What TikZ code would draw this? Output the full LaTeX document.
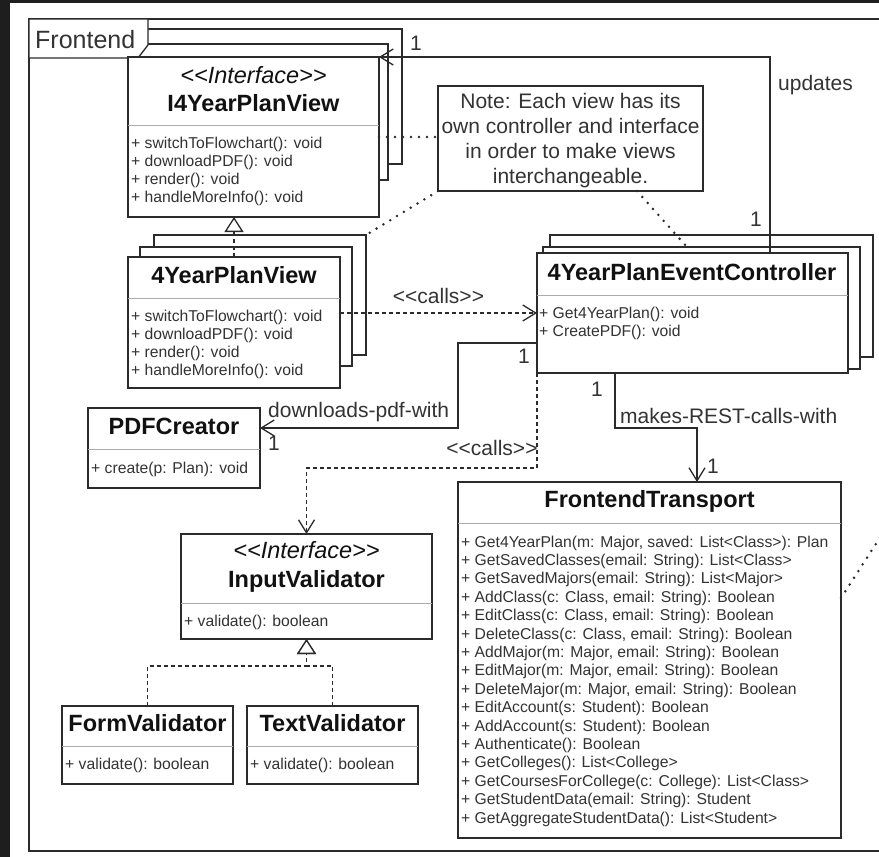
\documentclass[tikz,border=0pt]{standalone}
\usepackage{fontspec}
\setmainfont{Liberation Sans}[Ligatures=TeXOff]
\usetikzlibrary{arrows.meta,calc}
\definecolor{inkline}{HTML}{2B2B2B}
\definecolor{sepline}{HTML}{ABABAB}
\definecolor{inktext}{HTML}{333333}
\definecolor{inktitle}{HTML}{111111}
\definecolor{darkedge}{HTML}{1E1E1E}
\newcommand\methsize{\fontsize{15.7}{18}\selectfont}
\newcommand\titlesize{\fontsize{23.5}{28}\selectfont}
\newcommand\labelsize{\fontsize{21}{25}\selectfont}
\newcommand\framesize{\fontsize{25}{30}\selectfont}

\begin{document}
\begin{tikzpicture}[x=1pt,y=-1pt,
  box/.style={draw=inkline, fill=white, line width=1.3pt, rectangle,
              inner sep=0pt, outer sep=0pt, anchor=north west},
  sepl/.style={draw=sepline, line width=1pt},
  meth/.style={anchor=base west, inner sep=0pt, text=inktext, font=\methsize},
  ctitle/.style={anchor=base, inner sep=0pt, text=inktitle, font=\titlesize\bfseries},
  stereo/.style={anchor=base, inner sep=0pt, text=inktitle, font=\titlesize\itshape},
  lbl/.style={inner sep=0pt, text=inktext, font=\labelsize},
  notetext/.style={anchor=base, inner sep=0pt, text=inktext, font=\labelsize},
  assoc/.style={draw=inkline, line width=1.3pt, -{Straight Barb[length=13pt,width=16pt]}},
  dep/.style={assoc, dash pattern=on 4pt off 3pt},
  real/.style={draw=inkline, line width=1.3pt, dash pattern=on 4pt off 3pt,
               -{Triangle[open,length=15pt,width=19pt,fill=white]}},
  notel/.style={draw=inkline, line width=2.8pt, line cap=round, dash pattern=on 0pt off 8pt},
]
% canvas and dark screen edge
\fill[darkedge] (0,0) rectangle (879,857);
\fill[white] (10,3) rectangle (879,857);
\useasboundingbox (0,0) rectangle (879,857);
\clip (0,0) rectangle (879,857);

% package frame
\node[box, fill=none, minimum width=880pt, minimum height=832pt] (frame) at (29,19) {};

% stacked copies behind the interface
\node[box, minimum width=262pt, minimum height=135pt] (i4c3) at (140,29) {};
\node[box, minimum width=254pt, minimum height=136pt] (i4c2) at (134,44) {};

% frame tab
\draw[draw=inkline, line width=1.3pt, fill=white] (29,19) -- (148,19) -- (148,45) -- (138,58) -- (29,58) -- cycle;
\node[anchor=base west, inner sep=0pt, text=inktext, font=\framesize] (ftab) at (35,48) {Frontend};

% I4YearPlanView
\node[box, minimum width=251pt, minimum height=160pt] (i4) at (128,57) {};
\node[stereo] (i4s) at (253.5,83) {<<Interface>>};
\node[ctitle] (i4t) at (253.5,111) {I4YearPlanView};
\draw[sepl] ([yshift=-68pt]i4.north west) -- ([yshift=-68pt]i4.north east);
\foreach [count=\i] \t in {{+ switchToFlowchart(): void},{+ downloadPDF(): void},{+ render(): void},{+ handleMoreInfo(): void}}
  \node[meth] (i4m\i) at (131,{148+18.3*(\i-1)}) {\t};

% note
\node[box, minimum width=265pt, minimum height=105pt] (note) at (438,86) {};
\node[notetext] (n1) at (570.5,108) {Note: Each view has its};
\node[notetext] (n2) at (570.5,133) {own controller and interface};
\node[notetext] (n3) at (570.5,158) {in order to make views};
\node[notetext] (n4) at (570.5,183) {interchangeable.};

% 4YearPlanView
\node[box, minimum width=212pt, minimum height=120pt] (v4c3) at (154,235) {};
\node[box, minimum width=212pt, minimum height=119pt] (v4c2) at (140,247) {};
\node[box, minimum width=212pt, minimum height=131pt] (v4) at (128,257) {};
\node[ctitle] (v4t) at (234,283) {4YearPlanView};
\draw[sepl] ([yshift=-41pt]v4.north west) -- ([yshift=-41pt]v4.north east);
\foreach [count=\i] \t in {{+ switchToFlowchart(): void},{+ downloadPDF(): void},{+ render(): void},{+ handleMoreInfo(): void}}
  \node[meth] (v4m\i) at (131,{321+18.3*(\i-1)}) {\t};

% 4YearPlanEventController
\node[box, minimum width=323pt, minimum height=122pt] (ctc3) at (550,235) {};
\node[box, minimum width=317pt, minimum height=122pt] (ctc2) at (543,247) {};
\node[box, minimum width=311pt, minimum height=120pt] (ct) at (537,253) {};
\node[ctitle] (ctt) at (692,280) {4YearPlanEventController};
\draw[sepl] ([yshift=-42pt]ct.north west) -- ([yshift=-42pt]ct.north east);
\node[meth] (ctm1) at (539,318) {+ Get4YearPlan(): void};
\node[meth] (ctm2) at (539,336) {+ CreatePDF(): void};

% PDFCreator
\node[box, minimum width=172pt, minimum height=80pt] (pdf) at (88,408) {};
\node[ctitle] (pdft) at (174,434) {PDFCreator};
\draw[sepl] ([yshift=-41pt]pdf.north west) -- ([yshift=-41pt]pdf.north east);
\node[meth] (pdfm) at (91,473) {+ create(p: Plan): void};

% InputValidator
\node[box, minimum width=251pt, minimum height=105pt] (iv) at (181,534) {};
\node[stereo] (ivs) at (306.5,558) {<<Interface>>};
\node[ctitle] (ivt) at (306.5,587) {InputValidator};
\draw[sepl] ([yshift=-69pt]iv.north west) -- ([yshift=-69pt]iv.north east);
\node[meth] (ivm) at (184,626) {+ validate(): boolean};

% FormValidator / TextValidator
\node[box, minimum width=171pt, minimum height=78pt] (fv) at (62,706) {};
\node[ctitle] (fvt) at (147.5,731) {FormValidator};
\draw[sepl] ([yshift=-40pt]fv.north west) -- ([yshift=-40pt]fv.north east);
\node[meth] (fvm) at (65,769) {+ validate(): boolean};
\node[box, minimum width=171pt, minimum height=78pt] (tv) at (247,706) {};
\node[ctitle] (tvt) at (332.5,731) {TextValidator};
\draw[sepl] ([yshift=-40pt]tv.north west) -- ([yshift=-40pt]tv.north east);
\node[meth] (tvm) at (250,769) {+ validate(): boolean};

% FrontendTransport
\node[box, minimum width=383pt, minimum height=356pt] (tr) at (458,482) {};
\node[ctitle] (trt) at (649.5,507) {FrontendTransport};
\draw[sepl] ([yshift=-41pt]tr.north west) -- ([yshift=-41pt]tr.north east);
\foreach [count=\i] \t in {
  {+ Get4YearPlan(m: Major, saved: List<Class>): Plan},
  {+ GetSavedClasses(email: String): List<Class>},
  {+ GetSavedMajors(email: String): List<Major>},
  {+ AddClass(c: Class, email: String): Boolean},
  {+ EditClass(c: Class, email: String): Boolean},
  {+ DeleteClass(c: Class, email: String): Boolean},
  {+ AddMajor(m: Major, email: String): Boolean},
  {+ EditMajor(m: Major, email: String): Boolean},
  {+ DeleteMajor(m: Major, email: String): Boolean},
  {+ EditAccount(s: Student): Boolean},
  {+ AddAccount(s: Student): Boolean},
  {+ Authenticate(): Boolean},
  {+ GetColleges(): List<College>},
  {+ GetCoursesForCollege(c: College): List<Class>},
  {+ GetStudentData(email: String): Student},
  {+ GetAggregateStudentData(): List<Student>}}
  \node[meth] (trm\i) at (461,{547+18.4*(\i-1)}) {\t};

% connectors
\draw[assoc] ([xshift=233pt]ct.north west) |- (i4.north east);
\draw[dep] (v4.east |- ct.west) -- (ct.west);
\draw[assoc] ([yshift=-30pt]ct.west) -- ++(-79,0) |- ([yshift=20pt]pdf.east);
\draw[dep] (ct.south west) -- ++(0,95) -| (iv.north);
\draw[assoc] ([xshift=78pt]ct.south west) -- ++(0,55) -| ([xshift=239pt]tr.north west);
\draw[real] (v4.north) -- (v4.north |- i4.south);
\draw[real] (fv.north) -- ++(0,-40) -| (iv.south);
\draw[real] (tv.north) -- ++(0,-40) -| (iv.south);

% note attachments
\coordinate (offr) at (910,491);
\draw[notel] (i4.east) -- (note.west |- i4.east);
\draw[notel] (note.south west) -- (v4c3.north east);
\draw[notel] ([xshift=199pt]note.south west) -- ([xshift=144pt]ctc2.north west);
\draw[notel] ([yshift=62pt]tr.east) -- (offr);

% connector labels
\node[lbl, anchor=base west] (lupd) at (778,90) {updates};
\node[lbl, anchor=base] (m1a) at (416,50) {1};
\node[lbl, anchor=base] (m1b) at (756,226) {1};
\node[lbl, anchor=base] (lcall1) at (438.5,303) {<<calls>>};
\node[lbl, anchor=base west] (lpdf) at (268,417) {downloads-pdf-with};
\node[lbl, anchor=base] (m2a) at (524,363) {1};
\node[lbl, anchor=base] (m2b) at (274,450) {1};
\node[lbl, anchor=base] (lcall2) at (492,455) {<<calls>>};
\node[lbl, anchor=base] (m3a) at (597,396) {1};
\node[lbl, anchor=base west] (lrest) at (620,423) {makes-REST-calls-with};
\node[lbl, anchor=base] (m3b) at (713,473) {1};
\end{tikzpicture}
\end{document}
